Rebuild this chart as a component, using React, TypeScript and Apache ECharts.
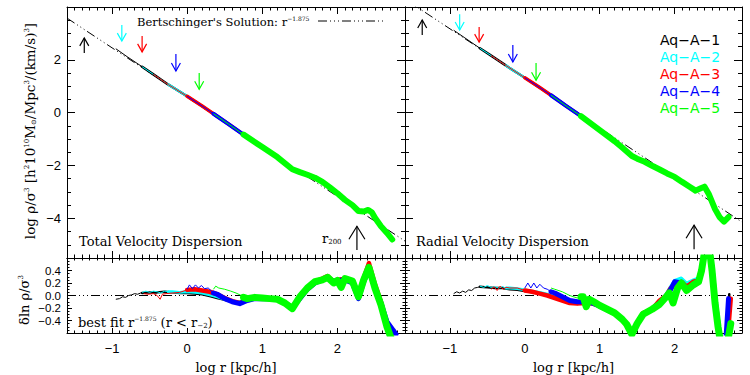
import React, { useEffect, useRef } from 'react';
import * as echarts from 'echarts';

// ---------- data ----------
const SERIES_NAMES = ['Aq−A−1', 'Aq−A−2', 'Aq−A−3', 'Aq−A−4', 'Aq−A−5'];
const SERIES_COLORS = ['#000000', '#00ffff', '#ff0000', '#0000ff', '#00ff00'];
// log r where each run starts (thin) and where it becomes converged (thick)
const RUN_START = [-0.95, -0.6, -0.45, 0.0, 0.35];
const THICK_FROM = [-0.6, -0.25, 0.0, 0.35, 0.75];

const X_RANGE = [-1.6, 2.9];
const X_MAJOR = [-1, 0, 1, 2];
const TOP_Y_RANGE = [-5.5, 4];
const TOP_Y_MAJOR = [-4, -2, 0, 2];
const RES_Y_RANGE = [-0.6, 0.6];
const RES_Y_MAJOR = [-0.4, -0.2, 0, 0.2, 0.4];

// log rho/sigma^3 profiles (top panels)
const TOP_TOTAL = [[-0.95, 2.42], [-0.8, 2.12], [-0.6, 1.74], [-0.45, 1.45], [-0.25, 1.06], [0, 0.62], [0.2, 0.25], [0.35, -0.04], [0.55, -0.43], [0.75, -0.83], [1.0, -1.3], [1.2, -1.68], [1.4, -2.14], [1.5, -2.25], [1.6, -2.35], [1.7, -2.46], [1.8, -2.62], [1.9, -2.83], [2.0, -3.05], [2.1, -3.3], [2.2, -3.5], [2.28, -3.72], [2.35, -3.74], [2.41, -3.68], [2.46, -3.78], [2.5, -3.98], [2.58, -4.3], [2.66, -4.55], [2.73, -4.8]];
const TOP_RADIAL = [[-0.95, 3.12], [-0.8, 2.83], [-0.6, 2.44], [-0.45, 2.16], [-0.25, 1.78], [0, 1.32], [0.2, 0.95], [0.35, 0.66], [0.55, 0.26], [0.75, -0.13], [1.0, -0.66], [1.2, -1.08], [1.3, -1.32], [1.43, -1.64], [1.5, -1.74], [1.6, -1.86], [1.7, -2.01], [1.8, -2.15], [1.9, -2.3], [2.0, -2.43], [2.1, -2.62], [2.2, -2.8], [2.28, -2.95], [2.35, -2.86], [2.4, -2.8], [2.46, -3.1], [2.54, -3.65], [2.6, -3.95], [2.66, -4.12], [2.72, -3.95]];

// Bertschinger r^-1.875 reference lines
const BERT_TOTAL = [[-1.6, 3.58], [2.9, -4.86]];
const BERT_RADIAL = [[-1.6, 4.3], [2.9, -4.14]];
const ZERO_LINE = [[-1.6, 0], [2.9, 0]];

// residuals, delta ln rho/sigma^3 (bottom panels)
const RES_TOT_A1 = [[-0.95, -0.06], [-0.9, -0.05], [-0.86, -0.02], [-0.82, -0.03], [-0.78, 0.0], [-0.74, 0.01], [-0.7, 0.03], [-0.66, 0.02], [-0.62, 0.04], [-0.6, 0.04], [-0.5, 0.05], [-0.4, 0.05], [-0.3, 0.06], [-0.2, 0.05], [-0.1, 0.04], [0, 0.04], [0.1, 0.03], [0.2, 0.02], [0.3, -0.01], [0.4, -0.04], [0.5, -0.07], [0.6, -0.1], [0.7, -0.12], [0.8, -0.06], [0.9, -0.04], [1.0, -0.05], [1.1, -0.05], [1.2, -0.06], [1.3, -0.12], [1.4, -0.2], [1.5, -0.04], [1.6, 0.1], [1.7, 0.2], [1.8, 0.24], [1.87, 0.28], [1.95, 0.2], [2.0, 0.22], [2.1, 0.25], [2.2, 0.22], [2.28, 0.0], [2.35, 0.22], [2.42, 0.42], [2.5, 0.15], [2.58, -0.12], [2.66, -0.45], [2.74, -0.65]];
const RES_TOT_A2 = [[-0.6, 0.05], [-0.55, 0.07], [-0.5, 0.05], [-0.45, 0.07], [-0.4, 0.06], [-0.35, 0.04], [-0.3, 0.07], [-0.25, 0.06], [-0.2, 0.06], [-0.1, 0.05], [0, 0.06], [0.1, 0.05], [0.2, 0.04], [0.3, 0.01], [0.4, -0.02], [0.5, -0.06], [0.6, -0.09], [0.7, -0.1], [0.8, -0.05], [0.9, -0.03], [1.0, -0.04], [1.1, -0.04], [1.2, -0.05], [1.3, -0.1], [1.4, -0.18], [1.5, -0.03], [1.6, 0.12], [1.7, 0.2], [1.8, 0.25], [1.87, 0.28], [1.95, 0.22], [2.0, 0.24], [2.1, 0.26], [2.2, 0.2], [2.28, -0.04], [2.35, 0.25], [2.42, 0.44], [2.5, 0.12], [2.58, -0.15], [2.66, -0.55], [2.74, -0.7]];
const RES_TOT_A3 = [[-0.58, 0.03], [-0.52, 0.02], [-0.45, 0.03], [-0.4, 0.0], [-0.36, -0.06], [-0.33, 0.02], [-0.28, 0.03], [-0.2, 0.04], [-0.1, 0.05], [0, 0.09], [0.1, 0.1], [0.2, 0.08], [0.3, 0.06], [0.4, 0.02], [0.5, -0.04], [0.6, -0.09], [0.7, -0.12], [0.8, -0.07], [0.9, -0.04], [1.0, -0.04], [1.1, -0.05], [1.2, -0.05], [1.3, -0.11], [1.4, -0.19], [1.5, -0.02], [1.6, 0.13], [1.7, 0.22], [1.8, 0.27], [1.87, 0.31], [1.95, 0.22], [2.0, 0.25], [2.1, 0.27], [2.2, 0.24], [2.28, 0.02], [2.35, 0.28], [2.42, 0.52], [2.5, 0.18], [2.58, -0.1], [2.66, -0.48], [2.74, -0.7]];
const RES_TOT_A4 = [[0, 0.1], [0.03, 0.17], [0.07, 0.11], [0.11, 0.17], [0.15, 0.12], [0.19, 0.16], [0.23, 0.11], [0.28, 0.12], [0.35, 0.04], [0.4, 0.02], [0.5, -0.05], [0.6, -0.1], [0.7, -0.13], [0.8, -0.08], [0.9, -0.05], [1.0, -0.05], [1.1, -0.05], [1.2, -0.06], [1.3, -0.12], [1.4, -0.2], [1.5, -0.05], [1.6, 0.1], [1.7, 0.2], [1.8, 0.25], [1.87, 0.28], [1.95, 0.23], [2.0, 0.24], [2.1, 0.25], [2.2, 0.2], [2.28, -0.05], [2.35, 0.22], [2.42, 0.42], [2.5, 0.12], [2.58, -0.12], [2.66, -0.42], [2.74, -0.55], [2.78, -0.62]];
const RES_TOT_A5 = [[0.35, 0.1], [0.38, 0.15], [0.42, 0.12], [0.5, 0.1], [0.58, 0.07], [0.65, 0.04], [0.72, 0.0], [0.75, -0.03], [0.8, -0.05], [0.9, -0.03], [1.0, -0.04], [1.1, -0.05], [1.2, -0.06], [1.3, -0.12], [1.4, -0.21], [1.5, -0.02], [1.6, 0.12], [1.7, 0.22], [1.8, 0.25], [1.87, 0.29], [1.95, 0.2], [2.0, 0.24], [2.05, 0.13], [2.1, 0.27], [2.2, 0.23], [2.28, -0.02], [2.35, 0.25], [2.42, 0.45], [2.5, 0.12], [2.58, -0.15], [2.66, -0.5], [2.72, -0.7]];

const RES_RAD_A1 = [[-0.95, 0.03], [-0.91, 0.06], [-0.87, 0.04], [-0.83, 0.07], [-0.79, 0.05], [-0.75, 0.09], [-0.71, 0.08], [-0.67, 0.12], [-0.63, 0.13], [-0.6, 0.14], [-0.5, 0.13], [-0.4, 0.12], [-0.3, 0.12], [-0.2, 0.1], [-0.1, 0.09], [0, 0.07], [0.1, 0.05], [0.2, 0.03], [0.3, 0.0], [0.4, -0.03], [0.5, -0.06], [0.6, -0.1], [0.7, -0.12], [0.8, -0.12], [0.9, -0.12], [1.0, -0.16], [1.1, -0.22], [1.2, -0.28], [1.3, -0.38], [1.36, -0.47], [1.43, -0.6], [1.5, -0.45], [1.58, -0.3], [1.7, -0.22], [1.8, -0.12], [1.89, 0.0], [1.95, 0.1], [2.0, 0.2], [2.09, 0.25], [2.16, 0.15], [2.25, 0.2], [2.32, 0.25], [2.36, 0.45], [2.4, 0.7], [2.47, 0.7], [2.5, 0.4], [2.54, -0.1], [2.58, -0.5], [2.62, -0.8], [2.7, -0.8], [2.73, 0.02]];
const RES_RAD_A2 = [[-0.6, 0.15], [-0.55, 0.13], [-0.5, 0.16], [-0.45, 0.13], [-0.4, 0.14], [-0.35, 0.12], [-0.3, 0.14], [-0.25, 0.12], [-0.2, 0.12], [-0.1, 0.11], [0, 0.09], [0.1, 0.07], [0.2, 0.05], [0.3, 0.02], [0.4, -0.02], [0.5, -0.05], [0.6, -0.09], [0.7, -0.11], [0.8, -0.11], [0.9, -0.11], [1.0, -0.15], [1.1, -0.21], [1.2, -0.27], [1.3, -0.36], [1.36, -0.45], [1.43, -0.6], [1.5, -0.44], [1.58, -0.28], [1.7, -0.2], [1.8, -0.1], [1.89, 0.03], [1.95, 0.15], [2.0, 0.24], [2.09, 0.28], [2.16, 0.2], [2.25, 0.25], [2.32, 0.28], [2.36, 0.5], [2.4, 0.7], [2.47, 0.7], [2.5, 0.4], [2.54, -0.1], [2.58, -0.5], [2.62, -0.8], [2.7, -0.8], [2.73, -0.1]];
const RES_RAD_A3 = [[-0.45, 0.1], [-0.41, 0.14], [-0.37, 0.08], [-0.33, 0.15], [-0.29, 0.1], [-0.25, 0.13], [-0.2, 0.12], [-0.1, 0.12], [0, 0.08], [0.1, 0.06], [0.2, 0.03], [0.3, 0.0], [0.4, -0.04], [0.5, -0.08], [0.6, -0.12], [0.7, -0.13], [0.8, -0.12], [0.9, -0.13], [1.0, -0.16], [1.1, -0.22], [1.2, -0.28], [1.3, -0.37], [1.36, -0.46], [1.43, -0.6], [1.5, -0.44], [1.58, -0.28], [1.7, -0.22], [1.8, -0.08], [1.89, 0.0], [1.95, 0.12], [2.0, 0.18], [2.09, 0.22], [2.16, 0.14], [2.25, 0.22], [2.32, 0.24], [2.36, 0.45], [2.4, 0.7], [2.47, 0.7], [2.5, 0.42], [2.54, -0.08], [2.58, -0.45], [2.62, -0.8], [2.7, -0.8], [2.75, -0.05]];
const RES_RAD_A4 = [[0, 0.12], [0.04, 0.2], [0.08, 0.12], [0.12, 0.2], [0.16, 0.12], [0.2, 0.18], [0.25, 0.12], [0.3, 0.1], [0.35, 0.06], [0.4, 0.04], [0.5, -0.02], [0.6, -0.08], [0.7, -0.1], [0.8, -0.1], [0.9, -0.12], [1.0, -0.17], [1.1, -0.23], [1.2, -0.29], [1.3, -0.38], [1.36, -0.47], [1.43, -0.62], [1.5, -0.46], [1.58, -0.3], [1.7, -0.22], [1.8, -0.12], [1.89, -0.02], [1.95, 0.1], [2.0, 0.22], [2.09, 0.2], [2.16, 0.1], [2.25, 0.18], [2.32, 0.22], [2.36, 0.42], [2.4, 0.7], [2.47, 0.7], [2.5, 0.45], [2.54, -0.05], [2.58, -0.45], [2.62, -0.8], [2.68, -0.8], [2.72, -0.05]];
const RES_RAD_A5 = [[0.35, 0.12], [0.4, 0.1], [0.5, 0.06], [0.6, 0.0], [0.7, -0.04], [0.75, -0.02], [0.78, -0.02], [0.82, -0.18], [0.86, -0.06], [0.92, -0.1], [1.0, -0.16], [1.1, -0.22], [1.2, -0.28], [1.3, -0.38], [1.36, -0.46], [1.43, -0.62], [1.5, -0.45], [1.58, -0.3], [1.7, -0.22], [1.8, -0.14], [1.89, -0.02], [1.93, 0.04], [1.98, -0.12], [2.04, 0.12], [2.09, 0.2], [2.16, 0.08], [2.25, 0.17], [2.32, 0.22], [2.36, 0.4], [2.4, 0.7], [2.47, 0.7], [2.5, 0.4], [2.54, -0.12], [2.58, -0.5], [2.62, -0.8], [2.7, -0.8], [2.75, -0.45]];

const RES_TOTAL = [RES_TOT_A1, RES_TOT_A2, RES_TOT_A3, RES_TOT_A4, RES_TOT_A5];
const RES_RADIAL = [RES_RAD_A1, RES_RAD_A2, RES_RAD_A3, RES_RAD_A4, RES_RAD_A5];

// arrows: [log r, tail, head, run index]
const ARROWS_TOTAL = [[-1.37, 2.26, 2.83, 0], [-0.87, 3.32, 2.71, 1], [-0.6, 2.9, 2.3, 2], [-0.15, 2.22, 1.58, 3], [0.16, 1.5, 0.89, 4]];
const ARROWS_RADIAL = [[-1.37, 2.94, 3.51, 0], [-0.87, 3.73, 3.13, 1], [-0.61, 3.24, 2.67, 2], [-0.16, 2.56, 1.92, 3], [0.15, 1.88, 1.23, 4]];
const R200_TOTAL = [[2.26, -5.2, -4.3]];
const R200_RADIAL = [[2.26, -5.17, -4.26]];

// ---------- helpers ----------
const TOP_W = [2.5, 2.5, 3.5, 4, 6];
const RES_W = [2.5, 3, 4.5, 5, 7];
const SERIF = 'DejaVu Serif';
const SANS = 'Liberation Sans';
const DASH_DOT3 = [9, 3, 1, 3, 1, 3, 1, 3];

function steps(a: number, b: number, d: number) {
  const out: number[] = [];
  const n = Math.round((b - a) / d);
  for (let i = 0; i <= n; i++) out.push(Math.round((a + i * d) * 1000) / 1000);
  return out;
}
const X_MINOR = steps(-1.6, 2.9, 0.1);
const TOP_Y_MINOR = steps(-5.5, 4, 0.5);
const RES_Y_MINOR = steps(-0.6, 0.6, 0.05);

function split(arr: number[][], t: number) {
  const i = arr.findIndex((p) => p[0] >= t - 1e-9);
  if (i < 0) return [arr, []];
  let j = i;
  if (arr[i][0] > t + 1e-9 && i > 0) j = i - 1;
  return [arr.slice(0, i + 1), arr.slice(j)];
}

const fmtMinus = (v: number, d: number) => (v < -1e-9 ? '−' + Math.abs(v).toFixed(d) : Math.abs(v).toFixed(d));

function axisSet(dim: 'x' | 'y', grid: number, pos: string, range: number[], major: number[], minor: number[], majLen: number, minLen: number, labels: boolean, dec: number, labelSize: number, extra: any = {}) {
  const base = {
    type: 'value', gridIndex: grid, position: pos, min: range[0], max: range[1],
    splitLine: { show: false },
  };
  return [
    {
      ...base,
      axisLine: { show: true, onZero: false, lineStyle: { color: '#000', width: 1 } },
      axisTick: { show: true, inside: true, length: majLen, customValues: major, lineStyle: { color: '#000', width: 1 } },
      axisLabel: {
        show: labels, customValues: major, color: '#000', fontFamily: SANS, fontSize: labelSize,
        lineHeight: labelSize, interval: 0, hideOverlap: false,
        margin: dim === 'x' ? 9 : 6,
        formatter: (v: number) => fmtMinus(v, dec),
      },
      ...extra,
    },
    {
      ...base,
      axisLine: { show: false, onZero: false },
      axisTick: { show: true, inside: true, length: minLen, customValues: minor, lineStyle: { color: '#000', width: 1 } },
      axisLabel: { show: false },
    },
  ];
}

function arrowSeries(data: number[][], xi: number, yi: number, w: number, h: number, name: string) {
  return {
    type: 'custom', name, xAxisIndex: xi, yAxisIndex: yi, silent: true, z: 5,
    data: data.map((a) => ({ value: [a[0], a[1], a[2]], itemStyle: { color: a[3] === undefined ? '#000' : SERIES_COLORS[a[3]] } })),
    renderItem: (params: any, api: any) => {
      const x = api.value(0), t = api.value(1), hd = api.value(2);
      const p = api.coord([x, t]);
      const q = api.coord([x, hd]);
      const dir = q[1] > p[1] ? 1 : -1;
      const color = api.visual('color');
      return {
        type: 'group',
        children: [
          { type: 'line', shape: { x1: p[0], y1: p[1], x2: q[0], y2: q[1] }, style: { stroke: color, lineWidth: 1.2 } },
          { type: 'polyline', shape: { points: [[q[0] - w, q[1] - dir * h], [q[0], q[1]], [q[0] + w, q[1] - dir * h]] }, style: { stroke: color, fill: null, lineWidth: 1.2 } },
        ],
      };
    },
  };
}

function buildOption() {
  const grids = [
    { left: 67, top: 7, width: 338, height: 251 },
    { left: 405, top: 7, width: 337, height: 251 },
    { left: 67, top: 258, width: 338, height: 75 },
    { left: 405, top: 258, width: 337, height: 75 },
  ];
  const xAxis: any[] = [];
  const yAxis: any[] = [];
  for (let g = 0; g < 4; g++) {
    const isRes = g >= 2;
    const xMaj = isRes ? 5 : 7, xMin = isRes ? 2.5 : 3.5;
    const nameExtra = isRes ? { name: 'log r [kpc/h]', nameLocation: 'middle', nameGap: 28, nameTextStyle: { fontFamily: SERIF, fontSize: 13, color: '#000' } } : {};
    xAxis.push(...axisSet('x', g, 'bottom', X_RANGE, X_MAJOR, X_MINOR, xMaj, xMin, isRes, 0, 13, nameExtra));
    xAxis.push(...axisSet('x', g, 'top', X_RANGE, X_MAJOR, X_MINOR, xMaj, xMin, false, 0, 13));
    const yr = isRes ? RES_Y_RANGE : TOP_Y_RANGE;
    const ymaj = isRes ? RES_Y_MAJOR : TOP_Y_MAJOR;
    const ymin = isRes ? RES_Y_MINOR : TOP_Y_MINOR;
    const yMajL = isRes ? 5 : 8, yMinL = isRes ? 2.5 : 4;
    const leftLabels = g === 0 || g === 2;
    yAxis.push(...axisSet('y', g, 'left', yr, ymaj, ymin, yMajL, yMinL, leftLabels, isRes ? 1 : 0, isRes ? 11.5 : 13));
    yAxis.push(...axisSet('y', g, 'right', yr, ymaj, ymin, yMajL, yMinL, false, 0, 13));
  }

  const series: any[] = [];
  const ref = (g: number, data: number[][]) => ({
    type: 'line', xAxisIndex: 4 * g, yAxisIndex: 4 * g, data, showSymbol: false, symbol: 'none', silent: true,
    lineStyle: { color: '#000', width: 1, type: DASH_DOT3 }, z: 1,
  });
  series.push(ref(0, BERT_TOTAL), ref(1, BERT_RADIAL), ref(2, ZERO_LINE), ref(3, ZERO_LINE));

  const panels = [
    { g: 0, get: (i: number) => TOP_TOTAL.filter((p) => p[0] >= RUN_START[i] - 1e-9), w: TOP_W },
    { g: 1, get: (i: number) => TOP_RADIAL.filter((p) => p[0] >= RUN_START[i] - 1e-9), w: TOP_W },
    { g: 2, get: (i: number) => RES_TOTAL[i], w: RES_W },
    { g: 3, get: (i: number) => RES_RADIAL[i], w: RES_W },
  ];
  panels.forEach((pnl) => {
    for (let i = 0; i < 5; i++) {
      const [thin, thick] = split(pnl.get(i), THICK_FROM[i]);
      const common = {
        type: 'line', name: SERIES_NAMES[i], xAxisIndex: 4 * pnl.g, yAxisIndex: 4 * pnl.g,
        showSymbol: false, symbol: 'none', silent: true, clip: true, z: 2,
      };
      series.push({ ...common, data: thin, lineStyle: { color: SERIES_COLORS[i], width: 1 } });
      series.push({ ...common, data: thick, lineStyle: { color: SERIES_COLORS[i], width: pnl.w[i], cap: 'round', join: 'round' } });
    }
  });

  series.push(arrowSeries(ARROWS_TOTAL, 0, 0, 4.5, 8, 'arrowsT'));
  series.push(arrowSeries(ARROWS_RADIAL, 4, 4, 4.5, 8, 'arrowsR'));
  series.push(arrowSeries(R200_TOTAL, 0, 0, 8, 13, 'r200T'));
  series.push(arrowSeries(R200_RADIAL, 4, 4, 8, 13, 'r200R'));

  const txt = (x: number, y: number, text: string, size: number, rich: any = {}, extra: any = {}) => ({
    type: 'text', x, y, silent: true, ...extra,
    style: {
      text, fill: '#000', fontFamily: SERIF, fontSize: size,
      align: extra.align || 'left', textAlign: extra.align || 'left',
      verticalAlign: 'middle', textVerticalAlign: 'middle', rich,
    },
  });
  const sup = (s: number) => ({ fontSize: s, fontFamily: SERIF, fill: '#000', color: '#000', verticalAlign: 'top', lineHeight: 14 });
  const sub = (s: number) => ({ fontSize: s, fontFamily: SERIF, fill: '#000', color: '#000', verticalAlign: 'bottom', lineHeight: 14 });

  const graphic = [
    txt(137, 22, "Bertschinger's Solution: r{sup|−1.875}", 11.5, { sup: sup(6) }),
    { type: 'line', silent: true, shape: { x1: 318, y1: 21, x2: 383, y2: 21 }, style: { stroke: '#000', lineWidth: 1, lineDash: DASH_DOT3 } },
    txt(79, 241, 'Total Velocity Dispersion', 13),
    txt(416, 241, 'Radial Velocity Dispersion', 13),
    txt(322, 238, 'r{sub|200}', 13, { sub: sub(7) }),
    txt(78, 322, 'best fit r{sup|−1.875} (r < r{sub|−2})', 13, { sup: sup(6), sub: sub(7) }),
    {
      type: 'text', x: 30, y: 131, rotation: Math.PI / 2, silent: true,
      style: {
        text: 'log ρ/σ{sup|3} [h{sup|2}10{sup|10}M{sub|⊙}/Mpc{sup|3}/(km/s){sup|3}]',
        fill: '#000', fontFamily: SERIF, fontSize: 13.5, align: 'center', textAlign: 'center',
        verticalAlign: 'middle', textVerticalAlign: 'middle',
        rich: { sup: sup(7), sub: sub(7) },
      },
    },
    {
      type: 'text', x: 24, y: 300, rotation: Math.PI / 2, silent: true,
      style: {
        text: 'δln ρ/σ{sup|3}', fill: '#000', fontFamily: SERIF, fontSize: 13, align: 'center', textAlign: 'center',
        verticalAlign: 'middle', textVerticalAlign: 'middle', rich: { sup: sup(7) },
      },
    },
  ];

  return {
    animation: false,
    backgroundColor: '#ffffff',
    grid: grids,
    xAxis,
    yAxis,
    legend: {
      data: SERIES_NAMES.map((n, i) => ({ name: n, icon: 'rect', itemStyle: { opacity: 0 }, textStyle: { color: SERIES_COLORS[i] } })),
      orient: 'vertical', left: 650, top: 28, itemWidth: 0, itemHeight: 14, itemGap: 3,
      selectedMode: false,
      textStyle: { fontFamily: 'DejaVu Sans', fontSize: 14 },
    },
    series,
    graphic,
  };
}

export default function App() {
  const ref = useRef<HTMLDivElement>(null);
  useEffect(() => {
    if (!ref.current) return;
    const chart = echarts.init(ref.current, undefined, { renderer: 'svg' });
    chart.setOption(buildOption() as any);
    return () => chart.dispose();
  }, []);
  return <div ref={ref} style={{ position: 'absolute', left: 0, top: 0, width: 750, height: 375 }} />;
}
